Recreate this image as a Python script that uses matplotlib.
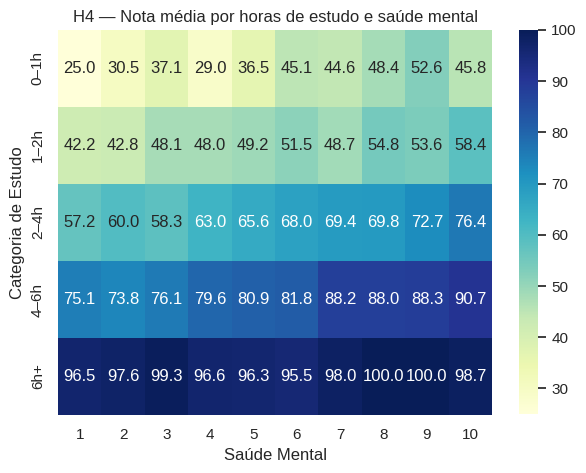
import matplotlib
matplotlib.use("Agg")
import matplotlib.pyplot as plt
import seaborn as sns
import numpy as np
import pandas as pd

categorias = ["0–1h", "1–2h", "2–4h", "4–6h", "6h+"]
saude = [1, 2, 3, 4, 5, 6, 7, 8, 9, 10]
notas_0_1 = [25.0, 30.5, 37.1, 29.0, 36.5, 45.1, 44.6, 48.4, 52.6, 45.8]
notas_1_2 = [42.2, 42.8, 48.1, 48.0, 49.2, 51.5, 48.7, 54.8, 53.6, 58.4]
notas_2_4 = [57.2, 60.0, 58.3, 63.0, 65.6, 68.0, 69.4, 69.8, 72.7, 76.4]
notas_4_6 = [75.1, 73.8, 76.1, 79.6, 80.9, 81.8, 88.2, 88.0, 88.3, 90.7]
notas_6 = [96.5, 97.6, 99.3, 96.6, 96.3, 95.5, 98.0, 100.0, 100.0, 98.7]

def plot():
    sns.set_theme(style="white")
    plt.rcParams['font.family'] = ['Liberation Sans', 'DejaVu Sans']

    tabela = pd.DataFrame([notas_0_1, notas_1_2, notas_2_4, notas_4_6, notas_6],
                          index=categorias, columns=saude)

    fig = plt.figure(figsize=(5.86, 4.73), dpi=100)
    ax = fig.add_axes([0.099, 0.1226, 0.7406, 0.814])
    cax = fig.add_axes([0.8857, 0.1247, 0.0324, 0.8119])
    sns.heatmap(tabela, annot=True, fmt=".1f", cmap="YlGnBu", ax=ax, cbar_ax=cax)
    ax.set_title("H4 — Nota média por horas de estudo e saúde mental")
    ax.set_xlabel("Saúde Mental")
    ax.set_ylabel("Categoria de Estudo")
    fig.savefig("out.png", dpi=100)

if __name__ == '__main__':
    plot()
